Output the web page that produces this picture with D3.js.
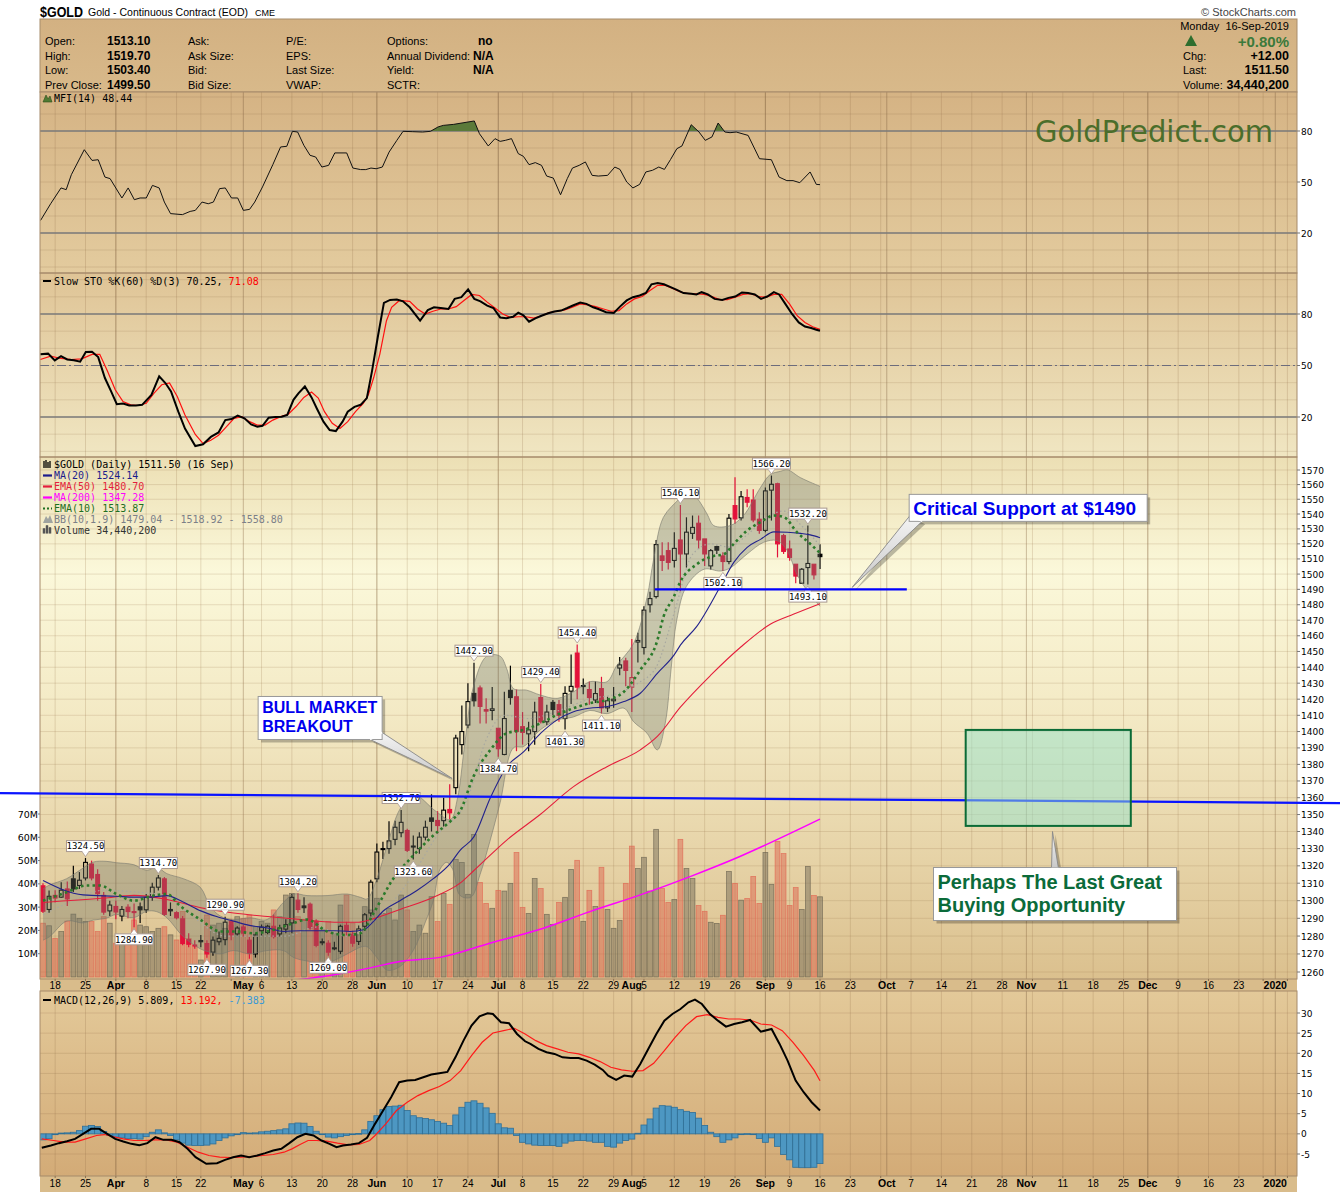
<!DOCTYPE html>
<html><head><meta charset="utf-8">
<script src="https://cdn.jsdelivr.net/npm/d3@7"></script>
<style>html,body{margin:0;padding:0;background:#fff}svg{display:block}</style>
</head><body>
<svg id="chart" width="1340" height="1192"></svg>
<script>
// ================= DATA =================
const holidays = ["2019-04-19","2019-05-27","2019-07-04","2019-09-02","2019-11-28","2019-12-25","2020-01-01"];
const firstDay = "2019-03-14", lastDataDay = "2019-09-16", axisEndDay = "2020-01-10";
const prevClose0 = 1302;
const openP = [1308.5,1295,1303,1302,1306.7,1312.5,1308.7,1313,1321,1315,1303,1294.2,1296.7,1291.3,1296.3,1293.8,1296.5,1294.8,1302,1307.7,1312.5,1295,1293.2,1289.7,1278,1275,1277.5,1275.8,1271,1276.8,1278,1288.4,1281.2,1285.1,1277.7,1270,1283,1282,1285.5,1281.2,1283.9,1287.4,1300.3,1297,1298,1288.4,1276.8,1276,1273.4,1271.5,1286,1281,1277,1285.5,1293,1312.5,1330,1330,1335.4,1339.3,1340.6,1331.5,1330,1336.7,1348,1346.5,1346.4,1353,1366,1392,1404,1423.6,1427,1413.5,1413,1402,1386,1425.5,1421.5,1403,1398.6,1400,1421,1406,1418,1416.6,1408,1425,1449,1428.5,1426,1419.5,1426.6,1414.6,1419,1439.5,1444,1427.5,1456,1452.5,1480,1485.3,1512,1515.5,1509,1522.6,1513.3,1527,1533.8,1523.3,1505.4,1518.2,1512,1508.3,1545.7,1537.4,1551.2,1549.5,1536.5,1529,1556.2,1560.6,1525.5,1516.6,1506.5,1494,1504.3,1506.5,1513.1];
const highP = [1310,1305.8,1306,1310.6,1311,1320,1316.4,1324.5,1323,1318,1305,1300,1300,1297,1298,1298.4,1299,1303.8,1310.2,1314.7,1313.5,1299,1294,1291.3,1281.6,1277.7,1280.6,1277.7,1279.7,1282.6,1290.9,1289.4,1285.5,1286.4,1279.7,1281.6,1286.5,1286.4,1292.2,1286.4,1289.4,1303.8,1304.2,1302,1299,1289.4,1278.7,1277.7,1276.8,1286.4,1288,1283,1286,1293,1312,1333,1334,1346,1346.4,1352.7,1341.6,1337.7,1339.6,1346.4,1362,1352,1360,1368,1398,1416,1430,1442.9,1428.6,1420.5,1427.6,1402,1424.6,1441,1426,1412,1406,1418.4,1429.4,1416.5,1419.5,1419.5,1428,1448,1454.4,1433,1431,1431,1434,1421.5,1427.6,1446.5,1446,1458,1462,1479,1488.5,1522.6,1521,1521,1527.8,1546.1,1537.8,1539,1539,1523.3,1516.6,1518.8,1514.4,1540,1565,1555.7,1556.8,1556.8,1541.2,1558,1566.2,1561.3,1526.7,1522.2,1506.5,1504,1532.2,1506.5,1519.7];
const lowP = [1293,1293.2,1299,1301.5,1297,1305,1306.7,1311.6,1311.6,1300,1292,1291.3,1289.4,1288.4,1290,1284.9,1287.4,1293.2,1300,1305.8,1291.3,1291.3,1289.4,1274.8,1273.8,1272.9,1273.8,1267.9,1269,1274.8,1274.8,1277.7,1279.7,1279.7,1267.3,1268,1280,1281,1278.7,1279.7,1281.6,1281.6,1293.2,1293,1283.5,1273.8,1274.8,1269,1272,1269.9,1280,1274,1275,1283,1291,1310.6,1324,1327,1332,1336.7,1328,1323.6,1327,1334.8,1340,1338.6,1343,1347,1362,1386,1402,1415.5,1405,1405,1407,1384.7,1385.5,1416.6,1388,1392,1388,1392,1405,1404,1410,1406,1401.3,1417,1420,1423,1416.6,1417.6,1411.1,1412,1414.6,1435,1428,1412,1443,1448,1475,1484,1502,1503,1504.3,1488.7,1504.3,1523.3,1516.6,1505.4,1503,1513.3,1502.1,1506.5,1533.4,1535.6,1544.5,1534.5,1526.7,1527.8,1535.6,1511,1513.3,1508.8,1494,1494,1493.1,1496.5,1503.4];
const closeP = [1294,1302.5,1301.5,1306,1301,1306.7,1311.7,1322,1313,1304,1293.5,1297.5,1293.6,1295,1293.8,1293.5,1294.8,1301.9,1307.7,1313,1292.2,1294.2,1290.3,1275.8,1275.4,1274.8,1276.8,1270,1277.7,1278.7,1287.8,1280.6,1284.5,1281.6,1270.4,1280.6,1285,1285.5,1279.7,1284.5,1286.4,1301.9,1295,1296,1284.5,1274.8,1276.4,1271,1273,1285.5,1283,1276,1284,1292,1310.6,1328,1329.5,1334.5,1342.5,1345.4,1329,1331.3,1336.7,1342.5,1346,1343.5,1352.6,1351,1396,1400,1418.5,1419,1415.5,1412.6,1414,1389.5,1408,1421,1400,1399.5,1401,1412,1406,1412,1413.6,1410,1423.6,1428,1427.5,1428.2,1421,1423.5,1414.6,1419,1420,1441.5,1438,1433.5,1457,1476.5,1484,1519.5,1509,1507.7,1517,1513.3,1527.8,1531,1522.6,1513.3,1515.5,1515.8,1508.3,1537.2,1536.7,1551.7,1548,1536,1529,1555.7,1560.2,1520,1515,1511,1498.7,1503.2,1507,1499.5,1511.5];
const volumeM = [23.1,22.0,16.6,19.5,24,27,25.2,23.8,23.8,19.5,25.9,23.1,14.5,16.6,18.1,24.5,22.3,21.6,19.5,20.9,21.6,18.1,15.9,28.1,16.6,13.0,7.3,26.6,22.3,23.1,20.9,22.3,25.9,25.2,26.6,21.6,23.8,23.1,28.8,25.9,35.2,35.9,25.9,24.5,28.8,21.6,20.2,23.8,18.8,30.9,35.2,23.1,18.1,30.2,28.8,33.8,27.3,29.5,24.5,35.2,28.8,19.5,22.3,18.8,34.5,23.8,35.9,31.2,50.5,49.2,35.5,61.2,40.6,31.6,29.5,37.2,36.9,40.2,53.5,29.9,27.3,42.3,38.0,26.9,22.6,32.0,34.2,46.2,50.1,23.9,37.2,30.3,47.1,29.0,20.9,24.3,40.2,56.2,46.6,51.4,36.9,63.4,38.0,32.0,33.3,59.1,46.6,42.3,30.7,28.2,23.5,23.0,26.5,45.3,40.2,33.0,33.7,43.2,31.6,53.5,39.8,58.2,53.0,30.7,38.4,29.0,47.5,35.0,34.44];
// overlays: [day index, value]
const ma20Pts = [[0,1311.6],[6.6,1303.3],[12,1302.5],[15,1302],[17.6,1302],[20.4,1302.9],[23,1299.4],[26,1294.2],[28.6,1291],[31.4,1288.4],[34,1286],[37,1284.5],[39.6,1282.6],[42.4,1283],[45,1283],[48,1283],[50.6,1282.6],[52.8,1283.5],[54.5,1288.4],[56,1294],[58.8,1300],[61.6,1305.8],[64.3,1312.6],[67,1321],[68.7,1329],[71,1337],[73.7,1360],[76.4,1378.6],[79.2,1387.7],[82,1399],[84.7,1407.2],[87.4,1412.2],[90,1414.4],[93,1415.4],[95.7,1418.5],[98.4,1423.7],[101.2,1436.2],[104,1448],[105,1454],[107.7,1466],[111.6,1492],[113.8,1507.7],[116,1517.7],[118.2,1523],[120.4,1528],[122.6,1527.8],[124.8,1527],[126.4,1526],[128,1524.14]];
const ema50Pts = [[0,1299],[10,1301.5],[15,1303],[20,1301],[26,1296],[31.4,1293],[37,1291],[42.4,1289.3],[48,1287.8],[52,1287.8],[54,1289.3],[58.8,1295],[64.3,1302],[68.7,1310],[70.9,1317],[76.4,1335],[81.9,1350],[87.4,1366.6],[92.9,1378.6],[98.4,1388.8],[101.2,1397],[105,1415],[110,1435],[115,1453],[119.8,1467.4],[123.7,1474],[128,1480.7]];
const ma200Pts = [[40,1255],[48,1258.5],[53.5,1262],[59,1266],[65.4,1268.1],[73.6,1276],[81.9,1283.8],[90.1,1293.8],[98.4,1303.3],[106.6,1313.8],[114.8,1325.4],[120.3,1334.2],[128,1347.28]];
const ema10Pts = [[0,1300],[3.9,1304.8],[7.2,1308.7],[9.4,1308.7],[12.1,1303.8],[14.9,1300],[18.2,1302.9],[20.4,1303.8],[22.6,1297],[25.9,1289.3],[29.2,1282.6],[31.4,1282.6],[34.7,1281.6],[38,1283.5],[41.3,1287.4],[43.5,1289.3],[46.8,1282.6],[50.1,1280.6],[52.3,1281.6],[54.5,1293.2],[57.7,1312.6],[61,1326],[64.3,1337.7],[67.1,1346],[68.7,1352],[70.9,1372.6],[73.7,1388.8],[76.4,1399],[79.2,1401],[81.9,1405],[84.7,1410.3],[87.4,1414.4],[90.1,1417.5],[92.9,1419.5],[95.7,1424.6],[98.4,1438.3],[101.2,1457],[102.2,1472],[103.9,1485],[105,1495],[107.7,1506.5],[110.5,1512],[112.1,1513],[113.8,1520],[116,1528.9],[118.2,1534.5],[120.4,1539],[122.1,1537.8],[124.2,1527.8],[126.4,1520],[128,1513.87]];
const bbUpperPts = [[0,1306.7],[1.1,1309],[3.9,1312.6],[6.6,1318.7],[8.3,1322.2],[10.4,1322.6],[12.1,1321.8],[14.9,1320.7],[17.1,1317.4],[18.7,1319.3],[20.4,1315.5],[23.1,1312.6],[25.9,1307.7],[27.5,1297],[29.2,1291.3],[31.4,1289.3],[34.1,1290.3],[36.9,1289.3],[39.6,1299],[41.3,1303.8],[43.5,1302.9],[46.8,1302.9],[50.1,1303.8],[52.3,1301.9],[53.4,1301],[55,1312.6],[56.7,1331.9],[58.8,1353.2],[61,1362],[64.7,1352],[67.1,1347],[68.3,1360],[69.4,1390],[70.9,1427.7],[73.1,1447],[75.3,1447],[76.4,1439],[77.5,1426.6],[79.7,1425.6],[81.9,1422.6],[84.7,1420.5],[87.4,1424.6],[90.1,1430.9],[92.9,1430.9],[94.5,1441],[97.3,1455.2],[99.5,1484.7],[100.6,1510],[102.2,1537.8],[105,1551.2],[106,1556.8],[107.7,1551],[109.4,1540],[110.5,1532.2],[113.2,1532.2],[115.4,1539],[118.2,1558],[119.8,1566.9],[121.5,1569.1],[122.6,1570.2],[124.8,1564.7],[128,1558.8]];
const bbLowerPts = [[0,1277.7],[1.1,1279.7],[3.9,1288.4],[6.6,1287.4],[8.3,1289],[10.4,1290],[12.1,1292.2],[14.9,1290.3],[17.1,1294],[18.7,1293.8],[20.4,1290.3],[23.1,1279.7],[25.9,1272.9],[27.5,1271],[29.2,1270],[31.4,1271.9],[34.1,1270],[36.9,1271.9],[39.6,1271.9],[41.3,1268],[43.5,1266.1],[46.8,1265.1],[50.1,1270],[52.3,1273.8],[53.4,1274],[55,1268],[56.7,1261],[58.8,1263],[61,1272],[63,1288],[64.3,1300],[65.4,1318],[66.5,1322],[67.5,1318],[68.7,1303],[70.5,1302],[72,1315],[73.6,1334],[75.3,1357],[77.5,1390],[79.2,1390.9],[81.9,1401],[84.7,1407],[87.4,1409],[90.1,1413],[92.9,1411],[95.7,1414.4],[97.3,1406],[99.5,1399],[101.2,1388.8],[102.5,1405],[103.5,1440],[104.4,1470],[106,1492],[108.9,1503.2],[111.6,1502],[113.2,1504],[116,1513.3],[118.7,1521],[120.9,1522.2],[122.6,1515.5],[124.2,1499.8],[126.4,1486.4],[128,1479.04]];
const bbMidPts = [[0,1292],[5,1300],[10,1306],[15,1305],[20,1303],[25,1290],[30,1280],[35,1280],[40,1280],[45,1285],[50,1280],[55,1290],[60,1310],[65,1338],[70,1360],[73,1395],[76,1410],[80,1408],[85,1413],[90,1420],[95,1424],[98,1430],[101,1440],[104,1475],[107,1513],[110,1520],[113,1518],[116,1526],[119,1537],[122,1542],[125,1532],[128,1518.92]];
const mfiPts = [[-0.4,27.4],[1.26,37.2],[2.97,46.5],[3.82,45.5],[4.67,54.3],[6.8,69.0],[8.07,62.7],[9.09,63.1],[10.2,52.9],[11.05,52.0],[13.0,40.6],[14.03,46.5],[15.05,39.6],[15.99,40.6],[17.01,40.6],[18.03,48.0],[19.14,46.5],[19.99,38.2],[21.01,31.4],[22.97,30.8],[24.24,32.7],[25.09,33.3],[26.2,38.2],[27.22,37.2],[28.07,38.2],[29.09,46.1],[30.03,46.5],[31.05,40.6],[32.07,40.6],[33.01,33.3],[34.03,33.9],[34.88,38.2],[36.16,47.1],[37.86,60.2],[39.14,70.6],[40.16,71.0],[41.09,79.8],[41.95,79.4],[42.97,71.6],[43.99,65.7],[44.92,64.7],[45.94,58.8],[47.05,59.8],[48.07,67.1],[50.03,67.1],[51.05,58.2],[52.33,57.3],[53.18,57.3],[54.03,58.2],[54.88,57.8],[55.9,58.8],[57.01,67.6],[58.29,74.5],[59.31,79.8],[60.92,79.6],[62.54,79.4],[63.82,79.8],[65.09,82.4],[65.94,83.3],[67.65,83.9],[69.35,84.9],[71.05,85.9],[71.9,78.4],[73.35,71.2],[74.46,75.5],[75.31,73.9],[76.16,74.5],[77.18,75.5],[78.29,66.7],[79.14,65.1],[80.07,60.2],[81.1,61.4],[82.12,59.8],[82.97,53.5],[84.07,52.3],[85.26,42.5],[86.37,52.0],[87.22,58.2],[88.33,59.8],[89.35,61.8],[90.46,53.9],[91.48,53.5],[93.01,53.9],[94.2,58.8],[95.05,57.4],[96.16,50.0],[97.18,46.5],[98.29,48.6],[99.31,55.9],[100.41,56.9],[101.44,58.8],[102.37,57.4],[103.39,63.3],[104.42,69.6],[105.26,71.2],[106.79,83.7],[108.07,79.4],[109.1,74.5],[110.2,76.5],[111.22,84.7],[112.33,79.4],[113.18,79.0],[114.2,79.4],[116.16,77.4],[118.03,63.7],[119.99,63.1],[121.26,52.9],[122.54,50.8],[123.56,50.8],[124.67,49.6],[126.37,55.9],[127.39,48.6],[128,48.44]];
const stoKPts = [[-0.44,56.5],[0.84,56.9],[1.94,53.0],[2.97,55.5],[3.99,53.5],[5.09,53.0],[6.12,52.2],[7.05,57.9],[8.07,58.0],[9.09,54.9],[10.2,42.7],[11.22,34.9],[12.16,27.5],[13.18,27.9],[14.2,26.7],[15.31,26.7],[16.33,27.1],[17.86,32.9],[19.14,43.7],[20.16,39.8],[21.09,34.9],[22.29,23.1],[23.39,13.3],[25.09,3.1],[26.37,4.1],[27.65,8.4],[28.92,11.0],[30.03,18.2],[31.05,18.8],[32.07,20.8],[33.18,19.2],[34.29,15.7],[35.31,14.3],[36.16,14.9],[37.18,19.6],[38.29,20.0],[39.31,20.2],[40.24,21.2],[41.26,30.0],[42.11,33.9],[43.14,37.8],[44.24,31.4],[45.09,25.1],[46.2,17.3],[47.22,12.4],[48.24,11.8],[49.35,17.3],[50.2,23.1],[51.31,25.9],[52.33,27.1],[53.35,31.0],[54.2,46.7],[55.14,66.3],[56.16,86.5],[57.18,88.2],[58.29,88.4],[59.31,87.4],[60.41,83.9],[62.12,76.1],[63.39,82.3],[64.41,83.9],[65.52,83.5],[66.79,82.9],[67.82,88.8],[68.92,89.8],[70.03,94.3],[71.05,88.8],[72.07,87.4],[73.18,84.9],[74.2,83.5],[75.31,78.0],[76.33,77.6],[77.43,78.4],[78.29,80.8],[79.14,79.2],[80.07,75.5],[81.1,77.5],[82.12,79.0],[83.22,80.4],[84.24,81.4],[85.35,82.0],[86.37,83.5],[87.39,85.1],[88.5,86.7],[89.52,85.9],[90.63,83.9],[91.48,82.9],[92.76,81.0],[94.03,80.6],[95.05,84.3],[96.16,87.9],[97.18,89.8],[98.29,90.8],[99.31,92.2],[100.24,97.3],[101.26,98.0],[102.29,97.3],[103.39,95.7],[104.42,94.1],[105.52,92.2],[106.79,91.8],[107.65,91.4],[108.5,92.7],[109.52,91.4],[110.63,88.8],[111.9,88.2],[112.92,89.4],[114.03,90.2],[115.14,92.55],[116.16,92.2],[117.26,91.4],[118.29,88.8],[119.31,90.2],[120.4,92.7],[121.26,91.4],[122.29,85.9],[123.39,80.0],[124.5,75.1],[125.52,72.7],[126.54,71.8],[127.39,70.8],[128,70.25]];
const stoDPts = [[-0.44,53.5],[1.26,55.5],[2.97,54.1],[4.67,53.5],[6.37,53.9],[8.07,56.5],[9.35,56.5],[10.63,46.7],[11.9,35.9],[13.18,29.0],[14.46,27.1],[15.73,26.7],[17.01,28.0],[18.29,33.9],[19.56,38.8],[20.84,39.8],[22.12,32.0],[23.39,21.2],[25.09,9.8],[26.37,4.5],[27.65,6.5],[28.92,9.4],[30.2,14.3],[31.48,19.2],[32.76,20.2],[34.03,17.3],[35.31,15.3],[36.58,15.3],[37.86,18.2],[39.14,20.2],[40.41,21.6],[41.69,26.1],[42.97,31.4],[44.24,34.5],[45.35,31.0],[46.37,23.1],[47.65,16.3],[48.92,13.3],[50.2,17.3],[51.48,23.1],[52.76,28.0],[53.6,32.9],[54.46,42.7],[55.48,56.5],[56.58,76.1],[57.43,83.9],[58.71,87.9],[60.41,87.4],[61.69,82.9],[62.97,80.0],[64.24,81.6],[65.52,82.9],[66.79,82.9],[68.07,84.3],[69.35,87.9],[70.63,91.4],[71.9,90.8],[73.18,86.9],[74.46,83.5],[75.73,80.0],[77.01,78.0],[78.29,78.4],[79.56,78.4],[80.84,77.6],[82.12,79.0],[83.39,80.8],[84.67,81.6],[85.95,82.35],[87.22,83.9],[88.5,85.9],[89.78,85.3],[91.05,84.3],[92.33,82.9],[93.6,81.6],[94.88,82.0],[96.16,85.9],[97.43,88.8],[98.71,90.2],[99.99,93.7],[101.26,96.7],[102.54,96.7],[103.82,94.7],[105.09,92.7],[106.37,91.8],[107.65,91.8],[108.93,91.4],[110.2,90.2],[111.48,88.4],[112.76,88.4],[114.03,89.8],[115.31,91.4],[116.58,91.8],[117.86,90.2],[119.14,89.8],[120.41,91.4],[121.69,91.4],[122.97,85.9],[124.24,79.0],[125.52,75.1],[126.79,72.55],[128,71.08]];
const macdPts = [[-0.2,-3.47],[1.3,-2.89],[2.63,-2.31],[3.95,-1.82],[5.28,-1.24],[6.6,0],[7.92,1.24],[9.25,1.24],[10.57,0],[11.9,-1.24],[13.22,-1.9],[14.54,-2.48],[15.87,-2.81],[17.19,-2.31],[18.52,-0.83],[19.84,-1.49],[21.16,-1.49],[22.49,-2.07],[23.81,-3.72],[25.14,-5.79],[26.9,-7.44],[28.67,-7.27],[29.99,-6.45],[31.31,-5.79],[32.64,-5.37],[33.96,-5.79],[35.29,-5.37],[36.61,-4.79],[37.93,-4.13],[39.26,-3.72],[40.58,-2.31],[41.9,-0.83],[43.23,0],[44.55,-0.41],[45.88,-1.65],[47.2,-2.48],[48.35,-3.31],[49.41,-2.89],[50.73,-2.64],[52.05,-2.31],[53.38,-0.99],[54.7,2.48],[56.03,5.79],[57.35,9.09],[58.67,12.81],[60,13.22],[61.32,13.39],[62.65,14.05],[63.97,14.71],[65.29,15.04],[66.62,15.37],[67.94,19.0],[69.27,23.14],[70.59,26.86],[71.91,29.18],[73.24,29.92],[74.12,29.75],[75.44,27.69],[76.77,27.44],[78.09,24.8],[79.42,22.98],[80.3,22.32],[81.62,21.08],[82.95,20.25],[84.27,19.84],[85.59,19.0],[86.92,18.84],[88.24,18.84],[89.56,18.18],[90.89,17.19],[92.21,15.87],[93.1,14.46],[94.42,13.39],[95.74,14.46],[97.07,14.22],[98.39,17.36],[99.71,21.08],[101.04,24.8],[102.36,28.1],[103.69,29.75],[105.01,30.99],[106.33,32.65],[107.4,33.31],[108.54,32.23],[109.87,29.75],[111.19,28.1],[112.51,26.61],[113.84,27.27],[115.16,27.69],[116.48,28.27],[118.25,25.37],[120.02,26.03],[121.34,22.32],[122.66,18.18],[123.99,13.22],[125.31,10.33],[126.63,7.85],[128,5.809]];
const signalPts = [[-0.2,-1.24],[1.75,-1.65],[3.51,-2.07],[5.28,-2.07],[7.04,-1.24],[8.81,-0.41],[10.13,-0.17],[11.45,-0.66],[13.22,-1.24],[14.99,-1.65],[16.75,-1.65],[18.52,-1.49],[20.28,-1.49],[22.05,-2.07],[23.81,-3.31],[25.58,-4.55],[27.34,-5.37],[29.11,-5.79],[30.87,-5.87],[32.64,-5.79],[34.4,-5.62],[36.17,-5.37],[37.93,-5.12],[39.7,-4.55],[41.02,-3.72],[42.35,-2.64],[43.67,-1.65],[44.99,-1.65],[46.76,-1.82],[48.52,-2.31],[50.29,-2.73],[52.05,-2.64],[53.82,-1.65],[54.7,-0.41],[56.47,2.48],[58.23,5.79],[60,7.85],[61.76,9.5],[63.53,10.74],[65.29,11.74],[67.06,13.22],[68.82,15.7],[70.59,19.42],[72.35,22.73],[74.12,25.04],[75.88,25.62],[77.65,26.2],[79.42,24.8],[81.18,23.14],[82.95,21.9],[84.71,21.08],[86.48,20.25],[88.24,19.84],[90.01,19.0],[91.77,17.94],[93.54,16.53],[95.3,15.87],[97.07,15.54],[98.84,15.7],[100.6,17.52],[102.36,20.66],[104.13,23.97],[105.89,26.86],[107.66,29.09],[109.42,29.59],[111.19,28.93],[112.95,28.51],[114.72,28.51],[116.48,28.27],[118.25,27.27],[120.02,27.03],[121.78,25.62],[123.55,22.73],[125.31,19.42],[127.08,15.7],[128,13.192]];
const macdHist = [-1.5,-1.2,-0.2,0.2,0.25,0.4,0.8,1.9,2.1,1.8,0.6,-0.4,-0.8,-1.0,-1.2,-1.2,-1.3,-0.7,0.4,1.0,0.25,-0.4,-1.5,-2.3,-2.8,-2.9,-2.9,-2.8,-2.5,-1.65,-1.0,-0.5,-0.2,0.3,0.2,0.25,0.5,0.65,0.8,1.0,1.25,2.5,2.7,2.65,1.8,0.65,-0.2,-0.8,-1.0,-0.7,-0.4,-0.2,0.1,1.0,3.1,4.5,6.0,6.8,6.9,7.1,5.8,4.5,4.0,3.8,3.5,3.1,2.65,2.1,4.7,6.6,7.85,8.2,7.6,6.45,5.1,2.5,1.5,1.4,-0.4,-2.1,-2.5,-2.8,-2.9,-2.9,-2.9,-3.1,-2.3,-1.8,-1.65,-1.65,-1.8,-2.1,-2.1,-3.1,-3.3,-2.3,-1.65,-1.3,0.15,2.2,3.7,6.4,7.0,6.9,6.6,6.0,5.6,5.3,3.9,2.1,0.4,-0.7,-2.1,-1.5,-1.0,-0.2,0.05,-0.2,-1.15,-2.1,-1.0,-3.1,-5.1,-6.45,-8.3,-8.4,-8.4,-8.3,-7.383];
const highLabelIdx = [7,19,30,42,59,71,82,88,105,120,126];
const lowLabelIdx = [15,27,34,47,61,75,86,92,112,126];
const priceTicks = [1260,1270,1280,1290,1300,1310,1320,1330,1340,1350,1360,1370,1380,1390,1400,1410,1420,1430,1440,1450,1460,1470,1480,1490,1500,1510,1520,1530,1540,1550,1560,1570];
const volTicks = [10,20,30,40,50,60,70];
const oscTicks = [20,50,80];
const macdTicks = [-5,0,5,10,15,20,25,30];
// annotations
const supportLevel = 1490, supportFromIdx = 100.8, supportToIdx = 142.3;
const trendLine = [[-7.1,1362.7],[213.7,1356.8]];
const targetBox = {i0:152, i1:179.2, p0:1343.3, p1:1401};
const headerRows = [["Open:","1513.10","Ask:","P/E:","Options:","no"],["High:","1519.70","Ask Size:","EPS:","Annual Dividend:","N/A"],["Low:","1503.40","Bid:","Last Size:","Yield:","N/A"],["Prev Close:","1499.50","Bid Size:","VWAP:","SCTR:",""]];
const quote = {date:"Monday\u00a0\u00a016-Sep-2019", pct:"+0.80%", chg:"+12.00", last:"1511.50", volume:"34,440,200"};

// ================= CHART =================
const svg = d3.select("#chart");
const defs = svg.append("defs");
const L = 40, R = 1297;
const PM = [92,273], PS = [273,457], PP = [457,979], PC = [991,1176];
function vgrad(id, stops){const g=defs.append("linearGradient").attr("id",id).attr("x1",0).attr("y1",0).attr("x2",0).attr("y2",1);stops.forEach(([o,c])=>g.append("stop").attr("offset",o).attr("stop-color",c));}
vgrad("gHead",[[0,"#d3b182"],[1,"#d8b98a"]]);
vgrad("gMfi",[[0,"#d5b384"],[1,"#e3cb9e"]]);
vgrad("gSto",[[0,"#dfc496"],[1,"#f0e6c2"]]);
vgrad("gPrice",[[0,"#ecdfb4"],[0.22,"#fbf8da"],[0.5,"#f3e9c4"],[1,"#dbc08e"]]);
vgrad("gMacd",[[0,"#e3c999"],[1,"#d3ab77"]]);
vgrad("gTail",[[0,"#f4f4f4"],[1,"#c8c8c8"]]);
function clip(id,x,y,w,h){defs.append("clipPath").attr("id",id).append("rect").attr("x",x).attr("y",y).attr("width",w).attr("height",h);}
clip("cM",L,PM[0],R-L,PM[1]-PM[0]); clip("cS",L,PS[0],R-L,PS[1]-PS[0]);
clip("cP",L,PP[0],R-L,PP[1]-PP[0]); clip("cC",L,PC[0],R-L,PC[1]-PC[0]);

const parseD = d3.utcParse("%Y-%m-%d"), fmtD = d3.utcFormat("%Y-%m-%d");
const holiSet = new Set(holidays);
const days = d3.utcDays(parseD(firstDay), d3.utcDay.offset(parseD(axisEndDay),1)).filter(d=>d.getUTCDay()%6!==0 && !holiSet.has(fmtD(d)));
const lastIdx = days.findIndex(d=>fmtD(d)===lastDataDay);
const N = closeP.length;
const x = d3.scaleLinear().domain([0,lastIdx]).range([43,820]);
const yP = d3.scaleLog().domain([1260,1570]).range([972,470]);
const yV = d3.scaleLinear().domain([0,70]).range([977,814]);
const yM = d3.scaleLinear().domain([20,80]).range([233,131]);
const yS = d3.scaleLinear().domain([20,80]).range([417,314]);
const yC = d3.scaleLinear().domain([-5,30]).range([1154,1013]);

const FS = "DejaVu Sans, Verdana, sans-serif", FM = "DejaVu Sans Mono, monospace", FA = "Liberation Sans, Arial, sans-serif";
function T(g,x0,y0,txt,o={}){const t=g.append("text").attr("x",x0).attr("y",y0).text(txt).attr("font-family",o.f||FA).attr("font-size",o.s||11).attr("fill",o.c||"#000");if(o.w)t.attr("font-weight",o.w);if(o.a)t.attr("text-anchor",o.a);if(o.tl)t.attr("textLength",o.tl).attr("lengthAdjust","spacingAndGlyphs");return t;}

// ---- header ----
const gH = svg.append("g");
T(gH,40,17,"$GOLD",{s:15,w:"bold",tl:43});
T(gH,88,16,"Gold - Continuous Contract (EOD)",{s:11,tl:160});
T(gH,255,16,"CME",{s:9});
T(gH,1296,16,"\u00a9 StockCharts.com",{s:11,a:"end",c:"#444"});
gH.append("rect").attr("x",L).attr("y",19).attr("width",R-L).attr("height",PM[0]-19).attr("fill","url(#gHead)").attr("stroke","#a88d6c");
const rowY=[45,59.5,74,88.5];
headerRows.forEach((r,k)=>{const y0=rowY[k];
  T(gH,45,y0,r[0],{s:11}); T(gH,107,y0,r[1],{s:12,w:"bold"});
  T(gH,188,y0,r[2],{s:11}); T(gH,286,y0,r[3],{s:11}); T(gH,387,y0,r[4],{s:11});
  if(r[5]) T(gH,r[5]==="no"?478:473,y0,r[5],{s:12,w:"bold"});
});
T(gH,1289,30,quote.date,{s:11,a:"end"});
gH.append("path").attr("d","M1185,46 L1191,35 L1197,46 Z").attr("fill","#2e6e2e");
T(gH,1289,47,quote.pct,{s:15,w:"bold",a:"end",c:"#3b7a3b"});
T(gH,1183,60,"Chg:",{s:11}); T(gH,1289,60,quote.chg,{s:12.5,w:"bold",a:"end"});
T(gH,1183,74,"Last:",{s:11}); T(gH,1289,74,quote.last,{s:12.5,w:"bold",a:"end"});
T(gH,1183,88.5,"Volume:",{s:11}); T(gH,1289,88.5,quote.volume,{s:12.5,w:"bold",a:"end"});

// ---- panel backgrounds ----
const gB = svg.append("g");
gB.append("rect").attr("x",L).attr("y",PM[0]).attr("width",R-L).attr("height",PM[1]-PM[0]).attr("fill","url(#gMfi)");
gB.append("rect").attr("x",L).attr("y",PS[0]).attr("width",R-L).attr("height",PS[1]-PS[0]).attr("fill","url(#gSto)");
gB.append("rect").attr("x",L).attr("y",PP[0]).attr("width",R-L).attr("height",PP[1]-PP[0]).attr("fill","url(#gPrice)");
gB.append("rect").attr("x",L).attr("y",PP[1]).attr("width",R-L).attr("height",PC[0]-PP[1]).attr("fill","#d9bc8b");
gB.append("rect").attr("x",L).attr("y",PC[0]).attr("width",R-L).attr("height",PC[1]-PC[0]).attr("fill","url(#gMacd)");
gB.append("rect").attr("x",L).attr("y",PC[1]).attr("width",R-L).attr("height",1192-PC[1]).attr("fill","#d9bc8b");

// ---- time axis positions ----
const weekStarts=[], monthStarts=[];
for(let i=1;i<days.length;i++){const d=days[i],p=days[i-1];
  if(d.getUTCMonth()!==p.getUTCMonth()) monthStarts.push(i);
  if(+d3.utcMonday.floor(d) > +p) weekStarts.push(i);}
const inRange = i => x(i)>L+1 && x(i)<R-1;
function vgrid(y0,y1,wc,mc){
  const g=svg.append("g");
  weekStarts.filter(inRange).forEach(i=>g.append("line").attr("x1",x(i)).attr("x2",x(i)).attr("y1",y0).attr("y2",y1).attr("stroke",wc));
  monthStarts.filter(inRange).forEach(i=>g.append("line").attr("x1",x(i)).attr("x2",x(i)).attr("y1",y0).attr("y2",y1).attr("stroke",mc));
}
function hgrid(vals,ys,c){const g=svg.append("g");vals.forEach(v=>g.append("line").attr("x1",L).attr("x2",R).attr("y1",ys(v)).attr("y2",ys(v)).attr("stroke",c));}
vgrid(PM[0],PM[1],"rgba(140,105,70,0.22)","rgba(120,90,60,0.4)");
vgrid(PS[0],PS[1],"rgba(140,105,70,0.22)","rgba(120,90,60,0.4)");
vgrid(PP[0],PP[1],"rgba(150,115,75,0.22)","rgba(130,95,60,0.38)");
vgrid(PC[0],PC[1],"rgba(140,105,70,0.22)","rgba(120,90,60,0.4)");
hgrid(d3.range(0,101,10).filter(v=>yM(v)>PM[0]&&yM(v)<PM[1]),yM,"rgba(140,105,70,0.18)");
hgrid(d3.range(0,101,10).filter(v=>yS(v)>PS[0]&&yS(v)<PS[1]),yS,"rgba(140,105,70,0.18)");
hgrid(priceTicks,yP,"rgba(150,115,75,0.2)");
hgrid(macdTicks,yC,"rgba(140,105,70,0.2)");

// x labels
const monthFmt = d3.utcFormat("%b");
function xLabels(yb){
  const g=svg.append("g");
  const mLab = monthStarts.map(i=>({i,t:days[i].getUTCMonth()===0?String(days[i].getUTCFullYear()):monthFmt(days[i])}));
  mLab.forEach(m=>{ if(x(m.i)<R-8) T(g,x(m.i),yb,m.t,{s:10.5,w:"bold",a:"middle",f:FA}); });
  weekStarts.forEach(i=>{
    if(monthStarts.includes(i)) return;
    const t=String(days[i].getUTCDate()); const wd=t.length*5.6;
    const clash=mLab.some(m=>Math.abs(x(m.i)-x(i)) < (m.t.length*6.4+wd)/2-1);
    if(!clash && x(i)>L+4 && x(i)<R-6) T(g,x(i),yb,t,{s:10,a:"middle",f:FA});
  });
}
xLabels(989); xLabels(1187);

// ---- MFI panel ----
const gMf = svg.append("g").attr("clip-path","url(#cM)");
[80,20].forEach(v=>gMf.append("line").attr("x1",L).attr("x2",R).attr("y1",yM(v)).attr("y2",yM(v)).attr("stroke","#7b7b7b").attr("stroke-width",1.4));
clip("cMhi",L,PM[0],R-L,yM(80)-PM[0]);
gMf.append("path").datum(mfiPts).attr("clip-path","url(#cMhi)")
  .attr("d",d3.area().x(d=>x(d[0])).y0(yM(80)).y1(d=>yM(d[1]))).attr("fill","#5b7a3a").attr("stroke","none");
gMf.append("path").datum(mfiPts).attr("d",d3.line().x(d=>x(d[0])).y(d=>yM(d[1]))).attr("fill","none").attr("stroke","#111").attr("stroke-width",1);
const gMl = svg.append("g");
gMl.append("path").attr("d","M43,102 L46,95 L48,99 L50,96 L52,102 Z").attr("fill","#4f7a32").attr("stroke","#2d4d1a").attr("stroke-width",0.6);
T(gMl,54,102,"MFI(14) 48.44",{f:FM,s:10});
T(gMl,1035,142,"GoldPredict.com",{f:FS,s:30,c:"#4b6e2b",tl:238});

// ---- STO panel ----
const gSt = svg.append("g").attr("clip-path","url(#cS)");
[80,20].forEach(v=>gSt.append("line").attr("x1",L).attr("x2",R).attr("y1",yS(v)).attr("y2",yS(v)).attr("stroke","#7b7b7b").attr("stroke-width",1.4));
gSt.append("line").attr("x1",L).attr("x2",R).attr("y1",yS(50)).attr("y2",yS(50)).attr("stroke","#6c6c7c").attr("stroke-width",1.2).attr("stroke-dasharray","9,3,2,3");
const lS = d3.line().x(d=>x(d[0])).y(d=>yS(d[1]));
gSt.append("path").datum(stoDPts).attr("d",lS).attr("fill","none").attr("stroke","#ff1010").attr("stroke-width",1.2);
gSt.append("path").datum(stoKPts).attr("d",lS).attr("fill","none").attr("stroke","#000").attr("stroke-width",2);
const gSl = svg.append("g");
gSl.append("line").attr("x1",43).attr("x2",51).attr("y1",281).attr("y2",281).attr("stroke","#000").attr("stroke-width",2);
const stoT = T(gSl,54,285,"",{f:FM,s:10});
stoT.append("tspan").text("Slow STO %K(60) %D(3) 70.25, ");
stoT.append("tspan").attr("fill","#f00").text("71.08");

// ---- price panel ----
const gPr = svg.append("g").attr("clip-path","url(#cP)");
const bw = 4.8;
for(let i=0;i<N;i++){
  const pc = i? closeP[i-1] : prevClose0, dn = closeP[i] < pc;
  gPr.append("rect").attr("x",x(i)-bw/2).attr("y",yV(volumeM[i])).attr("width",bw).attr("height",yV(0)-yV(volumeM[i]))
    .attr("fill",dn?"rgba(218,92,72,0.45)":"rgba(120,110,90,0.5)").attr("stroke",dn?"rgba(225,100,80,0.75)":"rgba(100,92,75,0.7)").attr("stroke-width",0.8);
}
for(let i=0;i<N;i++){
  const pc = i? closeP[i-1] : prevClose0;
  const col = closeP[i] >= pc ? "#000" : "#e3113a";
  const hollow = closeP[i] >= openP[i];
  const top = yP(Math.max(openP[i],closeP[i])), bot = yP(Math.min(openP[i],closeP[i]));
  const cx = x(i);
  gPr.append("line").attr("x1",cx).attr("x2",cx).attr("y1",yP(highP[i])).attr("y2",top).attr("stroke",col).attr("stroke-width",1.2);
  gPr.append("line").attr("x1",cx).attr("x2",cx).attr("y1",bot).attr("y2",yP(lowP[i])).attr("stroke",col).attr("stroke-width",1.2);
  gPr.append("rect").attr("x",cx-bw/2+0.5).attr("y",top).attr("width",bw-1).attr("height",Math.max(1,bot-top))
    .attr("fill",hollow?"none":col).attr("stroke",col).attr("stroke-width",1.1);
}
const cr = d3.curveCatmullRom.alpha(0.5);
const lineU = d3.line().x(d=>x(d[0])).y(d=>yP(d[1])).curve(cr);
const bandD = lineU(bbUpperPts) + "L" + lineU(bbLowerPts.slice().reverse()).slice(1) + "Z";
gPr.append("path").attr("d",bandD).attr("fill","rgba(115,120,105,0.36)").attr("stroke","none");
gPr.append("path").attr("d",lineU(bbUpperPts)).attr("fill","none").attr("stroke","rgba(120,120,110,0.6)");
gPr.append("path").attr("d",lineU(bbLowerPts)).attr("fill","none").attr("stroke","rgba(120,120,110,0.6)");
const lineP = d3.line().x(d=>x(d[0])).y(d=>yP(d[1])).curve(d3.curveMonotoneX);
gPr.append("path").attr("d",lineP(bbMidPts)).attr("fill","none").attr("stroke","#a8a8a0").attr("stroke-width",1.2).attr("stroke-dasharray","1.5,2.5");
gPr.append("path").attr("d",lineP(ma200Pts)).attr("fill","none").attr("stroke","#ff00ff").attr("stroke-width",1.5);
gPr.append("path").attr("d",lineP(ema50Pts)).attr("fill","none").attr("stroke","#e41e3c").attr("stroke-width",1.1);
gPr.append("path").attr("d",lineP(ma20Pts)).attr("fill","none").attr("stroke","#22228c").attr("stroke-width",1.1);
gPr.append("path").attr("d",lineP(ema10Pts)).attr("fill","none").attr("stroke","#2b7a2b").attr("stroke-width",2.6).attr("stroke-dasharray","2.6,3.2");
// value labels
function valLabel(i,v,isHigh){
  const cx=x(i), tip = isHigh? yP(v)-1.5 : yP(v)+1.5, w=38, h=11;
  const by = isHigh? tip-5-h : tip+5;
  const base = isHigh? tip-5 : tip+5;
  gPr.append("rect").attr("x",cx-w/2).attr("y",by).attr("width",w).attr("height",h).attr("fill","#fff").attr("stroke","#a89890");
  gPr.append("path").attr("d",`M${cx-3.5},${base} L${cx},${tip} L${cx+3.5},${base} Z`).attr("fill","#fff").attr("stroke","#a89890").attr("stroke-width",0.8);
  gPr.append("line").attr("x1",cx-3).attr("x2",cx+3).attr("y1",base).attr("y2",base).attr("stroke","#fff").attr("stroke-width",1.2);
  T(gPr,cx,by+h-2.2,v.toFixed(2),{f:FM,s:9,a:"middle"});
}
highLabelIdx.forEach(i=>valLabel(i,highP[i],true));
lowLabelIdx.forEach(i=>valLabel(i,lowP[i],false));
// support line
gPr.append("line").attr("x1",x(supportFromIdx)).attr("x2",x(supportToIdx)).attr("y1",yP(supportLevel)).attr("y2",yP(supportLevel)).attr("stroke","#0000ff").attr("stroke-width",2.2);
// legend
const gLg = svg.append("g");
const lgY = [468,479,490,501,512,523,533.5];
gLg.append("path").attr("d","M44,461 v7 M46,460 v8 M48,462 v6 M50,461 v7").attr("stroke","#000").attr("stroke-width",1.3);
T(gLg,54,lgY[0],"$GOLD (Daily) 1511.50 (16 Sep)",{f:FM,s:10});
[["MA(20) 1524.14","#1c1c8c",null],["EMA(50) 1480.70","#e41e3c",null],["MA(200) 1347.28","#ff00ff",null],["EMA(10) 1513.87","#1f6e1f","2,2"]].forEach((r,k)=>{
  const y0=lgY[k+1];
  gLg.append("line").attr("x1",43).attr("x2",52).attr("y1",y0-3.5).attr("y2",y0-3.5).attr("stroke",r[1]).attr("stroke-width",2.2).attr("stroke-dasharray",r[2]);
  T(gLg,54,y0,r[0],{f:FM,s:10,c:r[1]});
});
gLg.append("path").attr("d",`M43,${lgY[5]} L46,${lgY[5]-7} L48,${lgY[5]-4} L50,${lgY[5]-8} L53,${lgY[5]} Z`).attr("fill","#a0a4a0");
T(gLg,54,lgY[5],"BB(10,1.9) 1479.04 - 1518.92 - 1558.80",{f:FM,s:10,c:"#7c8088"});
gLg.append("path").attr("d",`M43,${lgY[6]} v-5 h2 v5 M46,${lgY[6]} v-8 h2 v8 M49,${lgY[6]} v-6 h2 v6`).attr("fill","#555").attr("stroke","#555").attr("stroke-width",0.5);
T(gLg,54,lgY[6],"Volume 34,440,200",{f:FM,s:10,c:"#333"});

// ---- MACD panel ----
const gMc = svg.append("g").attr("clip-path","url(#cC)");
for(let i=0;i<N;i++){
  const v=macdHist[i], y0=yC(Math.max(v,0)), y1=yC(Math.min(v,0));
  gMc.append("rect").attr("x",x(i)-3).attr("y",y0).attr("width",6).attr("height",Math.max(0.8,y1-y0)).attr("fill","#4d97c2").attr("stroke","#2f6f97").attr("stroke-width",0.8);
}
const lC = d3.line().x(d=>x(d[0])).y(d=>yC(d[1]));
gMc.append("path").datum(signalPts).attr("d",lC).attr("fill","none").attr("stroke","#ff1a1a").attr("stroke-width",1.2);
gMc.append("path").datum(macdPts).attr("d",lC).attr("fill","none").attr("stroke","#000").attr("stroke-width",2);
const gCl = svg.append("g");
gCl.append("line").attr("x1",43).attr("x2",51).attr("y1",1000).attr("y2",1000).attr("stroke","#000").attr("stroke-width",2);
const mT = T(gCl,54,1004,"",{f:FM,s:10});
mT.append("tspan").text("MACD(12,26,9) 5.809, ");
mT.append("tspan").attr("fill","#f00").text("13.192, ");
mT.append("tspan").attr("fill","#3a9ad8").text("-7.383");

// ---- panel borders & axes ----
const gA = svg.append("g");
[[PM[0],PM[1]],[PS[0],PS[1]],[PP[0],PP[1]],[PC[0],PC[1]]].forEach(([a,b])=>gA.append("rect").attr("x",L).attr("y",a).attr("width",R-L).attr("height",b-a).attr("fill","none").attr("stroke","#a58a6a"));
function rAxis(vals,ys,fmt){vals.forEach(v=>{gA.append("line").attr("x1",R).attr("x2",R+3).attr("y1",ys(v)).attr("y2",ys(v)).attr("stroke","#777");T(gA,R+4,ys(v)+3.5,fmt?fmt(v):String(v),{f:FS,s:9});});}
rAxis(oscTicks,yM); rAxis(oscTicks,yS); rAxis(priceTicks,yP); rAxis(macdTicks,yC);
volTicks.forEach(v=>{T(gA,38,yV(v)+3.5,v+"M",{f:FS,s:9.5,a:"end"});gA.append("line").attr("x1",L-2).attr("x2",L).attr("y1",yV(v)).attr("y2",yV(v)).attr("stroke","#777");});
weekStarts.filter(inRange).forEach(i=>{gA.append("line").attr("x1",x(i)).attr("x2",x(i)).attr("y1",PP[1]).attr("y2",PP[1]+2).attr("stroke","#8a7050");gA.append("line").attr("x1",x(i)).attr("x2",x(i)).attr("y1",PC[1]).attr("y2",PC[1]+2).attr("stroke","#8a7050");});

// ---- annotations ----
const gN = svg.append("g");
gN.append("line").attr("x1",x(trendLine[0][0])).attr("y1",yP(trendLine[0][1])).attr("x2",x(trendLine[1][0])).attr("y2",yP(trendLine[1][1])).attr("stroke","#0a14ff").attr("stroke-width",2.2);
gN.append("rect").attr("x",x(targetBox.i0)).attr("y",yP(targetBox.p1)).attr("width",x(targetBox.i1)-x(targetBox.i0)).attr("height",yP(targetBox.p0)-yP(targetBox.p1))
  .attr("fill","rgba(150,228,205,0.5)").attr("stroke","#0b6b36").attr("stroke-width",2);
function callout(tip,box,base,lines,color,size,lh){
  const g=gN.append("g");
  const tail=[base[0],base[1],tip];
  g.append("polygon").attr("points",tail.map(p=>[p[0]+3,p[1]+3].join(",")).join(" ")).attr("fill","rgba(0,0,0,0.25)");
  g.append("rect").attr("x",box.x+3).attr("y",box.y+3).attr("width",box.w).attr("height",box.h).attr("fill","rgba(0,0,0,0.25)");
  g.append("polygon").attr("points",tail.map(p=>p.join(",")).join(" ")).attr("fill","url(#gTail)").attr("stroke","#888").attr("stroke-width",0.9);
  g.append("rect").attr("x",box.x).attr("y",box.y).attr("width",box.w).attr("height",box.h).attr("fill","#fff").attr("stroke","#999");
  g.append("line").attr("x1",base[0][0]).attr("y1",base[0][1]).attr("x2",base[1][0]).attr("y2",base[1][1]).attr("stroke","#fff").attr("stroke-width",1.5);
  lines.forEach((t,k)=>T(g,box.x+4,box.y+lh[0]+k*lh[1],t,{s:size,w:"bold",c:color}));
}
// Critical support
{ const tip=[x(133.3),yP(1491.3)]; const box={x:tip[0]+57,y:tip[1]-93,w:238,h:27};
  callout(tip,box,[[box.x+1,box.y+box.h-6],[box.x+13,box.y+box.h]],["Critical Support at $1490"],"#0000ee",19,[21,0]); }
// Bull market breakout
{ const tip=[x(67.4),yP(1371.5)]; const box={x:tip[0]-194,y:tip[1]-82,w:124,h:43};
  callout(tip,box,[[box.x+box.w-12,box.y+box.h],[box.x+box.w,box.y+box.h-7]],["BULL MARKET","BREAKOUT"],"#0000ee",16,[17,19]); }
// Perhaps the last great
{ const tip=[x(166.3),yP(1340)]; const box={x:tip[0]-119,y:tip[1]+36,w:243,h:53};
  callout(tip,box,[[tip[0]-1,box.y+1],[tip[0]+6,box.y+1]],["Perhaps The Last Great","Buying Opportunity"],"#0b6b3a",20,[21,23]); }
</script>
</body></html>
